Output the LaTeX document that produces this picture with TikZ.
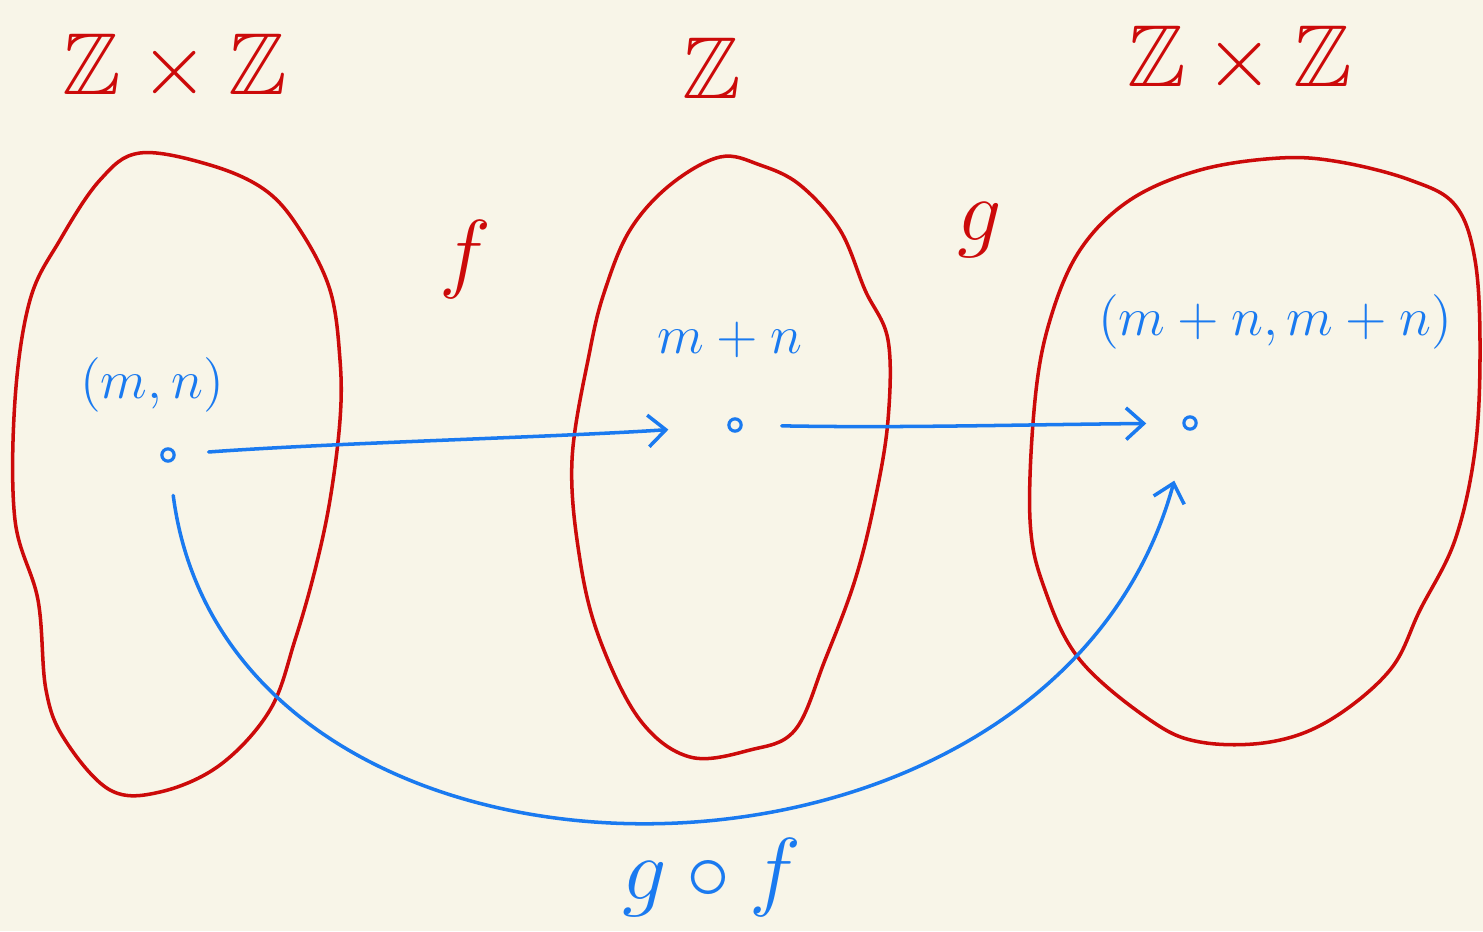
\RequirePackage{fix-cm}
\documentclass[tikz,border=0pt]{standalone}
\usepackage{amssymb}
\usetikzlibrary{arrows.meta}
\definecolor{bgc}{HTML}{F8F5E8}
\definecolor{redink}{HTML}{CC0A0A}
\definecolor{blueink}{HTML}{1A7AF0}
\tikzset{
  blob/.style={draw=redink, line width=1pt, line join=round},
  redlabel/.style={text=redink, font=\fontsize{25}{30}\selectfont, inner sep=0pt},
  bluelabel/.style={text=blueink, font=\fontsize{15.5}{19}\selectfont, inner sep=0pt},
  dotnode/.style={circle, draw=blueink, line width=0.9pt, minimum size=3.5pt, inner sep=0pt},
  maparrow/.style={draw=blueink, line width=1pt, line cap=round, -{Straight Barb[length=5pt,width=9pt,line width=1pt]}}
}
\begin{document}
\begin{tikzpicture}[x=0.01cm,y=-0.01cm]
\fill[bgc] (0,0) rectangle (1483,931);
\useasboundingbox (0,0) rectangle (1483,931);
% blobs
\draw[blob] plot[smooth cycle, tension=0.6] coordinates {(140,153) (210,165) (265,190) (300,230) (330,290) (340,360) (340,420) (330,500) (315,570) (295,640) (270,710) (220,765) (160,792) (110,790) (65,740) (46,690) (38,600) (15,520) (15,400) (30,300) (60,240) (100,180)};
\draw[blob] plot[smooth cycle, tension=0.6] coordinates {(720,157) (760,165) (800,185) (840,230) (865,290) (888,340) (888,420) (875,500) (855,580) (825,660) (795,730) (750,750) (690,757) (640,720) (600,640) (580,560) (572,460) (590,350) (605,290) (630,230) (670,185)};
\draw[blob] plot[smooth cycle, tension=0.6] coordinates {(1280,158) (1340,162) (1410,180) (1455,205) (1475,260) (1480,350) (1475,450) (1455,540) (1420,610) (1390,670) (1330,720) (1270,742) (1200,742) (1150,720) (1080,660) (1045,590) (1030,520) (1035,400) (1050,320) (1080,250) (1130,200) (1200,170)};
% red labels
\node[redlabel] (A) at (175,68) {$\mathbb{Z}\times\mathbb{Z}$};
\node[redlabel] (B) at (712,68) {$\mathbb{Z}$};
\node[redlabel] (C) at (1240,60) {$\mathbb{Z}\times\mathbb{Z}$};
\node[redlabel] (f) at (465,260) {$f$};
\node[redlabel] (g) at (980,230) {$g$};
% blue labels
\node[bluelabel] (mn) at (152,385) {$(m,n)$};
\node[bluelabel] (s) at (730,340) {$m+n$};
\node[bluelabel] (pair) at (1275,322) {$(m+n,m+n)$};
\node[text=blueink, font=\fontsize{25}{30}\selectfont, inner sep=0pt] (gf) at (712,878) {$g\circ f$};
% dots
\node[dotnode] (d1) at (168,455) {};
\node[dotnode] (d2) at (735,425) {};
\node[dotnode] (d3) at (1190,423) {};
% arrows
\draw[maparrow, shorten <=0.33cm, shorten >=0.59cm] (d1) .. controls (330,443) and (560,437) .. (d2);
\draw[maparrow, shorten <=0.39cm, shorten >=0.36cm] (d2) .. controls (900,428) and (1000,425) .. (d3);
\draw[maparrow, shorten <=0.33cm, shorten >=0.52cm] (d1) .. controls (230,935) and (1050,935) .. (d3);
\end{tikzpicture}
\end{document}
